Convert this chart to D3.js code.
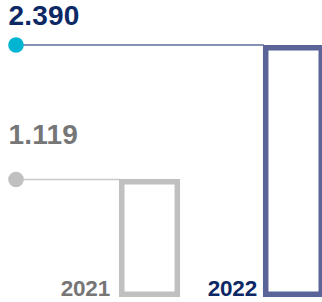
<!DOCTYPE html>
<html><head><meta charset="utf-8">
<script src="https://cdn.jsdelivr.net/npm/d3@7"></script>
<style>html,body{margin:0;padding:0;background:#fff;overflow:hidden}</style>
</head><body>
<svg id="c" width="322" height="302"></svg>
<script>
const years = ["2021", "2022"];
const values = [1119, 2390];
const valueLabels = ["1.119", "2.390"];
const barColors = ["#c0c0c1", "#5a6498"];
const lineColors = ["#c8c8c9", "#8a92b4"];
const dotColors = ["#c0c0c1", "#00b4d2"];
const textColors = ["#767677", "#0c2865"];

const svg = d3.select("#c");
const x = d3.scaleBand().domain(years).range([119, 324]).paddingInner(0.576).paddingOuter(0);
const y = d3.scaleLinear().domain([0, 2390]).range([297, 45]);
const sw = 5.5;
const labelGap = [35, 20];
const data = years.map((yr, i) => ({yr, v: values[i], lab: valueLabels[i], i}));

svg.selectAll("line.lead").data(data).enter().append("line")
  .attr("x1", 16).attr("x2", d => x(d.yr) + 1)
  .attr("y1", d => y(d.v) + (d.i ? 0 : 0.5)).attr("y2", d => y(d.v) + (d.i ? 0 : 0.5))
  .attr("stroke", d => lineColors[d.i]).attr("stroke-width", d => d.i ? 2 : 1.6);

svg.selectAll("rect.bar").data(data).enter().append("rect")
  .attr("x", d => x(d.yr) + sw / 2)
  .attr("y", d => y(d.v) + sw / 2)
  .attr("width", x.bandwidth() - sw)
  .attr("height", d => y(0) - y(d.v) - sw)
  .attr("fill", "none").attr("stroke", d => barColors[d.i]).attr("stroke-width", sw);

svg.selectAll("circle.dot").data(data).enter().append("circle")
  .attr("cx", 16).attr("cy", d => y(d.v) + (d.i ? 0 : 0.5)).attr("r", 7.8)
  .attr("fill", d => dotColors[d.i]);

svg.selectAll("text.val").data(data).enter().append("text")
  .attr("x", 8.5).attr("y", d => y(d.v) - labelGap[d.i])
  .attr("font-family", "Liberation Sans, Arial, sans-serif").attr("font-weight", "bold")
  .attr("font-size", 28).attr("letter-spacing", 0.2)
  .attr("fill", d => textColors[d.i]).text(d => d.lab);

svg.selectAll("text.yr").data(data).enter().append("text")
  .attr("x", d => x(d.yr) - (d.i ? 6 : 9)).attr("y", 296)
  .attr("text-anchor", "end")
  .attr("font-family", "Liberation Sans, Arial, sans-serif").attr("font-weight", "bold")
  .attr("font-size", 22.5).attr("letter-spacing", -0.2)
  .attr("fill", d => textColors[d.i]).text(d => d.yr);
</script>
</body></html>
